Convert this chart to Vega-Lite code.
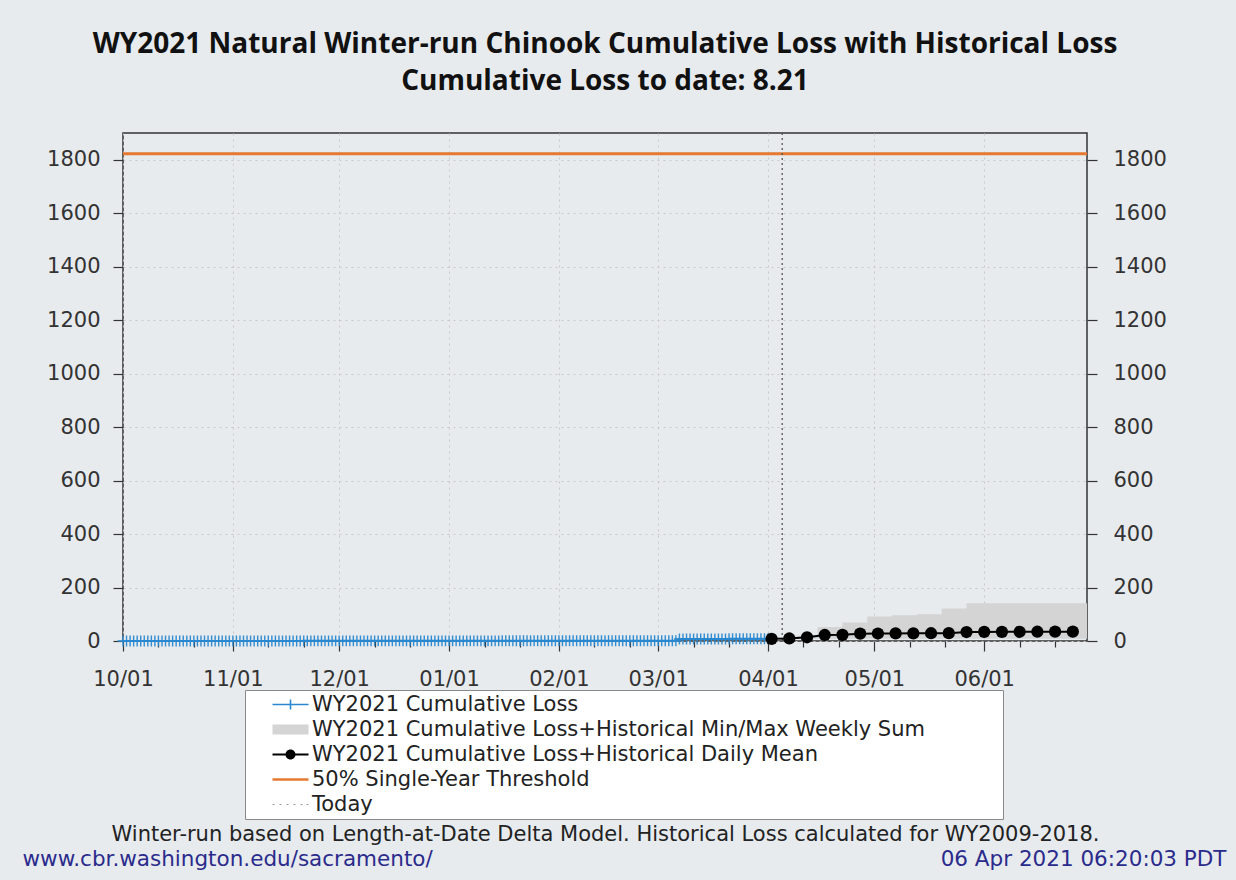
{
  "$schema": "https://vega.github.io/schema/vega-lite/v6.json",
  "width": 964,
  "height": 508,
  "autosize": {"type": "none"},
  "padding": {"left": 123, "top": 133, "right": 149, "bottom": 239},
  "background": "#e7ebee",
  "title": {
    "text": ["WY2021 Natural Winter-run Chinook Cumulative Loss with Historical Loss", "Cumulative Loss to date: 8.21"],
    "font": "Open Sans",
    "fontWeight": "bold",
    "fontSize": 28,
    "lineHeight": 37,
    "color": "#111111",
    "anchor": "middle",
    "offset": 36
  },
  "config": {
    "view": {"stroke": "#333333", "strokeWidth": 1.5, "fill": "#ffffff"},
    "axis": {
      "domain": false,
      "tickColor": "#333333",
      "tickWidth": 1.2,
      "labelFont": "DejaVu Sans",
      "labelFontSize": 21,
      "labelColor": "#333333",
      "labelFlush": false,
      "labelOverlap": false,
      "gridColor": "#c8c8c8",
      "gridDash": [2, 4],
      "gridWidth": 1,
      "titleFont": "DejaVu Sans",
      "titleFontWeight": "normal",
      "titleFontSize": 21.5
    }
  },
  "resolve": {"axis": {"x": "independent", "y": "independent"}},
  "layer": [
    {
      "data": {"values": [
        {"d": "2021-04-01", "lo": 8.21, "hi": 14},
        {"d": "2021-04-08", "lo": 8.21, "hi": 20},
        {"d": "2021-04-15", "lo": 8.21, "hi": 52},
        {"d": "2021-04-22", "lo": 8.21, "hi": 69},
        {"d": "2021-04-29", "lo": 8.21, "hi": 92},
        {"d": "2021-05-06", "lo": 8.21, "hi": 96},
        {"d": "2021-05-13", "lo": 8.21, "hi": 100},
        {"d": "2021-05-20", "lo": 8.21, "hi": 122},
        {"d": "2021-05-27", "lo": 8.21, "hi": 141},
        {"d": "2021-06-03", "lo": 8.21, "hi": 141},
        {"d": "2021-06-10", "lo": 8.21, "hi": 141},
        {"d": "2021-06-17", "lo": 8.21, "hi": 141},
        {"d": "2021-06-24", "lo": 8.21, "hi": 141},
        {"d": "2021-06-30", "lo": 8.21, "hi": 141}
      ]},
      "mark": {"type": "area", "interpolate": "step-after", "color": "#d4d4d4"},
      "encoding": {
        "x": {"field": "d", "type": "temporal", "axis": null,
              "scale": {"type": "utc", "nice": false, "domain": [{"year": 2020, "month": 10, "date": 1, "utc": true}, {"year": 2021, "month": 6, "date": 30, "utc": true}]}},
        "y": {"field": "hi", "type": "quantitative", "axis": null, "scale": {"domain": [0, 1900], "nice": false}},
        "y2": {"field": "lo"}
      }
    },
    {
      "data": {"values": [{"thr": 1822}]},
      "mark": {"type": "rule", "color": "#e5792f", "strokeWidth": 3},
      "encoding": {
        "y": {"field": "thr", "type": "quantitative", "scale": {"domain": [0, 1900], "nice": false},
              "axis": {"orient": "right", "values": [0, 200, 400, 600, 800, 1000, 1200, 1400, 1600, 1800], "format": "d", "grid": false, "tickSize": 10, "labelPadding": 16,
                       "title": "06 Apr 2021 06:20:03 PDT", "titleAngle": 0, "titleAlign": "right", "titleBaseline": "alphabetic", "titleX": 139, "titleY": 732, "titleColor": "#2b2b8c"}}
      }
    },
    {
      "data": {"values": [{"today": "2021-04-05"}]},
      "mark": {"type": "rule", "color": "#555555", "strokeWidth": 1.3, "strokeDash": [2, 3]},
      "encoding": {
        "x": {"field": "today", "type": "temporal",
              "scale": {"type": "utc", "nice": false, "domain": [{"year": 2020, "month": 10, "date": 1, "utc": true}, {"year": 2021, "month": 6, "date": 30, "utc": true}]},
              "axis": {"orient": "bottom", "grid": false, "labels": false, "tickSize": 6, "title": null,
                       "values": [
                         {"year": 2020, "month": 10, "date": 11, "utc": true}, {"year": 2020, "month": 10, "date": 21, "utc": true},
                         {"year": 2020, "month": 11, "date": 11, "utc": true}, {"year": 2020, "month": 11, "date": 21, "utc": true},
                         {"year": 2020, "month": 12, "date": 11, "utc": true}, {"year": 2020, "month": 12, "date": 21, "utc": true},
                         {"year": 2021, "month": 1, "date": 11, "utc": true}, {"year": 2021, "month": 1, "date": 21, "utc": true},
                         {"year": 2021, "month": 2, "date": 11, "utc": true}, {"year": 2021, "month": 2, "date": 21, "utc": true},
                         {"year": 2021, "month": 3, "date": 11, "utc": true}, {"year": 2021, "month": 3, "date": 21, "utc": true},
                         {"year": 2021, "month": 4, "date": 11, "utc": true}, {"year": 2021, "month": 4, "date": 21, "utc": true},
                         {"year": 2021, "month": 5, "date": 11, "utc": true}, {"year": 2021, "month": 5, "date": 21, "utc": true},
                         {"year": 2021, "month": 6, "date": 11, "utc": true}, {"year": 2021, "month": 6, "date": 21, "utc": true}
                       ]}}
      }
    },
    {
      "data": {"name": "blue"},
      "mark": {"type": "line", "color": "#2a88d0", "strokeWidth": 2},
      "encoding": {
        "x": {"field": "d", "type": "temporal",
              "scale": {"type": "utc", "nice": false, "domain": [{"year": 2020, "month": 10, "date": 1, "utc": true}, {"year": 2021, "month": 6, "date": 30, "utc": true}]},
              "axis": {"orient": "bottom", "format": "%m/%d", "grid": true, "tickSize": 10, "labelPadding": 17,
                       "values": [
                         {"year": 2020, "month": 10, "date": 1, "utc": true}, {"year": 2020, "month": 11, "date": 1, "utc": true},
                         {"year": 2020, "month": 12, "date": 1, "utc": true}, {"year": 2021, "month": 1, "date": 1, "utc": true},
                         {"year": 2021, "month": 2, "date": 1, "utc": true}, {"year": 2021, "month": 3, "date": 1, "utc": true},
                         {"year": 2021, "month": 4, "date": 1, "utc": true}, {"year": 2021, "month": 5, "date": 1, "utc": true},
                         {"year": 2021, "month": 6, "date": 1, "utc": true}
                       ],
                       "title": "Winter-run based on Length-at-Date Delta Model. Historical Loss calculated for WY2009-2018.",
                       "titleFontSize": 21, "titleBaseline": "alphabetic", "titleY": 199, "titleColor": "#222222"}},
        "y": {"field": "v", "type": "quantitative", "scale": {"domain": [0, 1900], "nice": false},
              "axis": {"orient": "left", "values": [0, 200, 400, 600, 800, 1000, 1200, 1400, 1600, 1800], "format": "d", "grid": true, "tickSize": 10, "labelPadding": 13,
                       "title": "www.cbr.washington.edu/sacramento/", "titleAngle": 0, "titleAlign": "left", "titleBaseline": "alphabetic", "titleX": -101, "titleY": 732, "titleColor": "#2b2b8c"}}
      }
    },
    {
      "data": {"name": "blue"},
      "mark": {"type": "point", "shape": "M-1,0H1M0,-1V1", "filled": false, "size": 120, "strokeWidth": 1.4, "color": "#2a88d0", "opacity": 0.95},
      "encoding": {
        "x": {"field": "d", "type": "temporal", "axis": null,
              "scale": {"type": "utc", "nice": false, "domain": [{"year": 2020, "month": 10, "date": 1, "utc": true}, {"year": 2021, "month": 6, "date": 30, "utc": true}]}},
        "y": {"field": "v", "type": "quantitative", "axis": null, "scale": {"domain": [0, 1900], "nice": false}}
      }
    },
    {
      "data": {"values": [
        {"d": "2021-04-02", "v": 8.21}, {"d": "2021-04-07", "v": 9.5}, {"d": "2021-04-12", "v": 14},
        {"d": "2021-04-17", "v": 22.5}, {"d": "2021-04-22", "v": 23}, {"d": "2021-04-27", "v": 27.5},
        {"d": "2021-05-02", "v": 28}, {"d": "2021-05-07", "v": 28.5}, {"d": "2021-05-12", "v": 28.8},
        {"d": "2021-05-17", "v": 29}, {"d": "2021-05-22", "v": 29.2}, {"d": "2021-05-27", "v": 33.5},
        {"d": "2021-06-01", "v": 34}, {"d": "2021-06-06", "v": 34.3}, {"d": "2021-06-11", "v": 34.5},
        {"d": "2021-06-16", "v": 34.7}, {"d": "2021-06-21", "v": 34.8}, {"d": "2021-06-26", "v": 35}
      ]},
      "mark": {"type": "line", "color": "#000000", "strokeWidth": 2, "point": {"filled": true, "size": 150, "color": "#000000", "opacity": 1}},
      "encoding": {
        "x": {"field": "d", "type": "temporal", "axis": null,
              "scale": {"type": "utc", "nice": false, "domain": [{"year": 2020, "month": 10, "date": 1, "utc": true}, {"year": 2021, "month": 6, "date": 30, "utc": true}]}},
        "y": {"field": "v", "type": "quantitative", "axis": null, "scale": {"domain": [0, 1900], "nice": false}}
      }
    },
    {
      "data": {"values": [
        {"series": "WY2021 Cumulative Loss"},
        {"series": "WY2021 Cumulative Loss+Historical Min/Max Weekly Sum"},
        {"series": "WY2021 Cumulative Loss+Historical Daily Mean"},
        {"series": "50% Single-Year Threshold"},
        {"series": "Today"}
      ]},
      "transform": [{"filter": "false"}],
      "mark": {"type": "point", "filled": true, "opacity": 1},
      "encoding": {
        "color": {"field": "series", "type": "nominal",
          "scale": {"domain": ["WY2021 Cumulative Loss", "WY2021 Cumulative Loss+Historical Min/Max Weekly Sum", "WY2021 Cumulative Loss+Historical Daily Mean", "50% Single-Year Threshold", "Today"],
                    "range": ["#2a88d0", "#d4d4d4", "#000000", "#e5792f", "#9a9a9a"]},
          "legend": {"orient": "none", "legendX": 122, "legendY": 557, "title": null, "padding": 4, "fillColor": "#ffffff", "strokeColor": "#8a8a8a",
                     "symbolSize": 400, "symbolStrokeWidth": 0, "symbolOpacity": 1, "symbolOffset": 31, "labelOffset": 11, "labelFont": "DejaVu Sans", "labelFontSize": 21,
                     "labelColor": "#222222", "labelLimit": 1000, "rowPadding": 3.0, "labelExpr": "datum.label + '\u00a0\u00a0\u00a0\u00a0\u00a0\u00a0\u00a0\u00a0\u00a0\u00a0\u00a0\u200b'"}},
        "shape": {"field": "series", "type": "nominal",
          "scale": {"domain": ["WY2021 Cumulative Loss", "WY2021 Cumulative Loss+Historical Min/Max Weekly Sum", "WY2021 Cumulative Loss+Historical Daily Mean", "50% Single-Year Threshold", "Today"],
                    "range": [
                      "M-1.8,-0.08H1.8V0.08H-1.8Z M-0.08,-0.5H0.08V0.5H-0.08Z",
                      "M-1.8,-0.5H1.8V0.5H-1.8Z",
                      "M-1.8,-0.09H1.8V0.09H-1.8Z M0.5,0A0.5,0.5 0 1,1 -0.5,0A0.5,0.5 0 1,1 0.5,0Z",
                      "M-1.8,-0.12H1.8V0.12H-1.8Z",
                      "M-1.8,-0.06H-1.6V0.06H-1.8Z M-1.1,-0.06H-0.9V0.06H-1.1Z M-0.4,-0.06H-0.2V0.06H-0.4Z M0.3,-0.06H0.5V0.06H0.3Z M1.0,-0.06H1.2V0.06H1.0Z M1.6,-0.06H1.8V0.06H1.6Z"
                    ]},
          "legend": {"orient": "none", "legendX": 122, "legendY": 557, "title": null, "padding": 4, "fillColor": "#ffffff", "strokeColor": "#8a8a8a",
                     "symbolSize": 400, "symbolStrokeWidth": 0, "symbolOpacity": 1, "symbolOffset": 31, "labelOffset": 11, "labelFont": "DejaVu Sans", "labelFontSize": 21,
                     "labelColor": "#222222", "labelLimit": 1000, "rowPadding": 3.0, "labelExpr": "datum.label + '\u00a0\u00a0\u00a0\u00a0\u00a0\u00a0\u00a0\u00a0\u00a0\u00a0\u00a0\u200b'"}}
      }
    }
  ],
  "datasets": {
    "blue": [
      {"d": "2020-10-01", "v": 0}, {"d": "2020-10-02", "v": 0}, {"d": "2020-10-03", "v": 0}, {"d": "2020-10-04", "v": 0}, {"d": "2020-10-05", "v": 0},
      {"d": "2020-10-06", "v": 0}, {"d": "2020-10-07", "v": 0}, {"d": "2020-10-08", "v": 0}, {"d": "2020-10-09", "v": 0}, {"d": "2020-10-10", "v": 0},
      {"d": "2020-10-11", "v": 0}, {"d": "2020-10-12", "v": 0}, {"d": "2020-10-13", "v": 0}, {"d": "2020-10-14", "v": 0}, {"d": "2020-10-15", "v": 0},
      {"d": "2020-10-16", "v": 0}, {"d": "2020-10-17", "v": 0}, {"d": "2020-10-18", "v": 0}, {"d": "2020-10-19", "v": 0}, {"d": "2020-10-20", "v": 0},
      {"d": "2020-10-21", "v": 0}, {"d": "2020-10-22", "v": 0}, {"d": "2020-10-23", "v": 0}, {"d": "2020-10-24", "v": 0}, {"d": "2020-10-25", "v": 0},
      {"d": "2020-10-26", "v": 0}, {"d": "2020-10-27", "v": 0}, {"d": "2020-10-28", "v": 0}, {"d": "2020-10-29", "v": 0}, {"d": "2020-10-30", "v": 0},
      {"d": "2020-10-31", "v": 0},
      {"d": "2020-11-01", "v": 0}, {"d": "2020-11-02", "v": 0}, {"d": "2020-11-03", "v": 0}, {"d": "2020-11-04", "v": 0}, {"d": "2020-11-05", "v": 0},
      {"d": "2020-11-06", "v": 0}, {"d": "2020-11-07", "v": 0}, {"d": "2020-11-08", "v": 0}, {"d": "2020-11-09", "v": 0}, {"d": "2020-11-10", "v": 0},
      {"d": "2020-11-11", "v": 0}, {"d": "2020-11-12", "v": 0}, {"d": "2020-11-13", "v": 0}, {"d": "2020-11-14", "v": 0}, {"d": "2020-11-15", "v": 0},
      {"d": "2020-11-16", "v": 0}, {"d": "2020-11-17", "v": 0}, {"d": "2020-11-18", "v": 0}, {"d": "2020-11-19", "v": 0}, {"d": "2020-11-20", "v": 0},
      {"d": "2020-11-21", "v": 0.5}, {"d": "2020-11-22", "v": 0.5}, {"d": "2020-11-23", "v": 0.5}, {"d": "2020-11-24", "v": 0.5}, {"d": "2020-11-25", "v": 0.5},
      {"d": "2020-11-26", "v": 0.5}, {"d": "2020-11-27", "v": 0.5}, {"d": "2020-11-28", "v": 0.5}, {"d": "2020-11-29", "v": 0.5}, {"d": "2020-11-30", "v": 0.5},
      {"d": "2020-12-01", "v": 0.5}, {"d": "2020-12-02", "v": 0.5}, {"d": "2020-12-03", "v": 0.5}, {"d": "2020-12-04", "v": 0.5}, {"d": "2020-12-05", "v": 0.5},
      {"d": "2020-12-06", "v": 0.5}, {"d": "2020-12-07", "v": 0.5}, {"d": "2020-12-08", "v": 0.5}, {"d": "2020-12-09", "v": 0.5}, {"d": "2020-12-10", "v": 0.5},
      {"d": "2020-12-11", "v": 0.5}, {"d": "2020-12-12", "v": 0.5}, {"d": "2020-12-13", "v": 0.5}, {"d": "2020-12-14", "v": 0.5}, {"d": "2020-12-15", "v": 0.5},
      {"d": "2020-12-16", "v": 0.5}, {"d": "2020-12-17", "v": 0.5}, {"d": "2020-12-18", "v": 0.5}, {"d": "2020-12-19", "v": 0.5}, {"d": "2020-12-20", "v": 0.5},
      {"d": "2020-12-21", "v": 0.5}, {"d": "2020-12-22", "v": 0.5}, {"d": "2020-12-23", "v": 0.5}, {"d": "2020-12-24", "v": 0.5}, {"d": "2020-12-25", "v": 0.5},
      {"d": "2020-12-26", "v": 0.5}, {"d": "2020-12-27", "v": 0.5}, {"d": "2020-12-28", "v": 0.5}, {"d": "2020-12-29", "v": 0.5}, {"d": "2020-12-30", "v": 0.5},
      {"d": "2020-12-31", "v": 0.5},
      {"d": "2021-01-01", "v": 0.5}, {"d": "2021-01-02", "v": 0.5}, {"d": "2021-01-03", "v": 0.5}, {"d": "2021-01-04", "v": 0.5}, {"d": "2021-01-05", "v": 0.5},
      {"d": "2021-01-06", "v": 0.5}, {"d": "2021-01-07", "v": 0.5}, {"d": "2021-01-08", "v": 0.5}, {"d": "2021-01-09", "v": 0.5}, {"d": "2021-01-10", "v": 0.5},
      {"d": "2021-01-11", "v": 0.5}, {"d": "2021-01-12", "v": 0.5}, {"d": "2021-01-13", "v": 0.5}, {"d": "2021-01-14", "v": 0.5}, {"d": "2021-01-15", "v": 0.5},
      {"d": "2021-01-16", "v": 1.0}, {"d": "2021-01-17", "v": 1.0}, {"d": "2021-01-18", "v": 1.0}, {"d": "2021-01-19", "v": 1.0}, {"d": "2021-01-20", "v": 1.0},
      {"d": "2021-01-21", "v": 1.0}, {"d": "2021-01-22", "v": 1.0}, {"d": "2021-01-23", "v": 1.0}, {"d": "2021-01-24", "v": 1.0}, {"d": "2021-01-25", "v": 1.0},
      {"d": "2021-01-26", "v": 1.0}, {"d": "2021-01-27", "v": 1.0}, {"d": "2021-01-28", "v": 1.0}, {"d": "2021-01-29", "v": 1.0}, {"d": "2021-01-30", "v": 1.0},
      {"d": "2021-01-31", "v": 1.0},
      {"d": "2021-02-01", "v": 1.0}, {"d": "2021-02-02", "v": 1.0}, {"d": "2021-02-03", "v": 1.0}, {"d": "2021-02-04", "v": 1.0}, {"d": "2021-02-05", "v": 1.0},
      {"d": "2021-02-06", "v": 1.0}, {"d": "2021-02-07", "v": 1.0}, {"d": "2021-02-08", "v": 1.0}, {"d": "2021-02-09", "v": 1.0}, {"d": "2021-02-10", "v": 1.0},
      {"d": "2021-02-11", "v": 1.0}, {"d": "2021-02-12", "v": 1.0}, {"d": "2021-02-13", "v": 1.0}, {"d": "2021-02-14", "v": 1.0}, {"d": "2021-02-15", "v": 1.0},
      {"d": "2021-02-16", "v": 1.0}, {"d": "2021-02-17", "v": 1.0}, {"d": "2021-02-18", "v": 1.0}, {"d": "2021-02-19", "v": 1.0}, {"d": "2021-02-20", "v": 1.0},
      {"d": "2021-02-21", "v": 1.0}, {"d": "2021-02-22", "v": 1.0}, {"d": "2021-02-23", "v": 1.0}, {"d": "2021-02-24", "v": 1.0}, {"d": "2021-02-25", "v": 1.0},
      {"d": "2021-02-26", "v": 1.0}, {"d": "2021-02-27", "v": 1.0}, {"d": "2021-02-28", "v": 1.0},
      {"d": "2021-03-01", "v": 1.0}, {"d": "2021-03-02", "v": 1.0}, {"d": "2021-03-03", "v": 1.0}, {"d": "2021-03-04", "v": 1.0}, {"d": "2021-03-05", "v": 1.0},
      {"d": "2021-03-06", "v": 1.0}, {"d": "2021-03-07", "v": 7.6}, {"d": "2021-03-08", "v": 7.6}, {"d": "2021-03-09", "v": 7.6}, {"d": "2021-03-10", "v": 7.6},
      {"d": "2021-03-11", "v": 7.6}, {"d": "2021-03-12", "v": 7.6}, {"d": "2021-03-13", "v": 7.6}, {"d": "2021-03-14", "v": 7.6}, {"d": "2021-03-15", "v": 7.6},
      {"d": "2021-03-16", "v": 7.6}, {"d": "2021-03-17", "v": 7.6}, {"d": "2021-03-18", "v": 7.6}, {"d": "2021-03-19", "v": 7.6}, {"d": "2021-03-20", "v": 7.6},
      {"d": "2021-03-21", "v": 8.21}, {"d": "2021-03-22", "v": 8.21}, {"d": "2021-03-23", "v": 8.21}, {"d": "2021-03-24", "v": 8.21}, {"d": "2021-03-25", "v": 8.21},
      {"d": "2021-03-26", "v": 8.21}, {"d": "2021-03-27", "v": 8.21}, {"d": "2021-03-28", "v": 8.21}, {"d": "2021-03-29", "v": 8.21}, {"d": "2021-03-30", "v": 8.21},
      {"d": "2021-03-31", "v": 8.21}, {"d": "2021-04-01", "v": 8.21}
    ]
  }
}
